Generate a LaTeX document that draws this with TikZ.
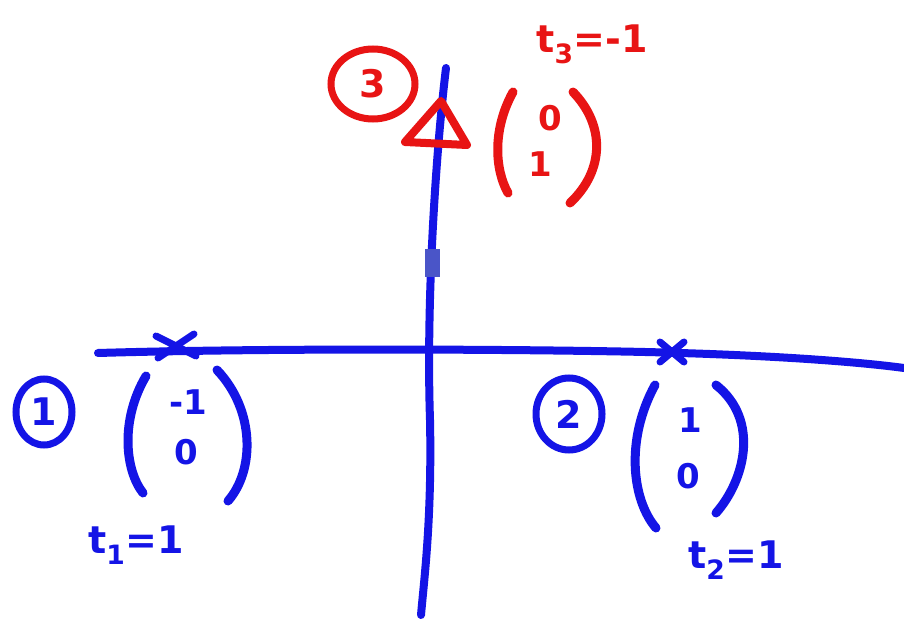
\documentclass[tikz,border=0pt]{standalone}
\usepackage{fontspec}
\setmainfont{DejaVu Sans}
\definecolor{pen}{HTML}{1414E6}
\definecolor{redpen}{HTML}{E81414}
\definecolor{marker}{HTML}{4A55C8}
\usetikzlibrary{shapes.geometric,calc}
\tikzset{
  stroke/.style={line width=8pt, line cap=round, line join=round},
  axis/.style={stroke, pen},
  paren/.style={line width=9pt, line cap=round},
  ring/.style={draw, ellipse, line width=7pt, inner sep=0pt},
  lbl/.style={font=\bfseries\fontsize{38}{40}\selectfont, inner sep=0pt},
  entry/.style={font=\bfseries\fontsize{34}{36}\selectfont, inner sep=0pt},
}
\begin{document}
\begin{tikzpicture}[x=1pt,y=-1pt]
\useasboundingbox (0,0) rectangle (904,620);
\fill[white] (0,0) rectangle (904,620);
% axes
\coordinate (vtop) at (446,68);
\coordinate (vbot) at (421,615);
\coordinate (hl) at (98,353);
\coordinate (hr) at (904,368);
\draw[axis] (vtop) .. controls (436,150) and (426,300) .. (430,420) .. controls (432,520) and (424,580) .. (vbot);
\draw[axis] (hl) .. controls (300,347) and (600,350) .. (680,353) .. controls (780,356) and (860,362) .. (hr);
\node[fill=marker, minimum width=15pt, minimum height=27pt, inner sep=0pt] (mk) at (432,263) {};
% crosses
\coordinate (x1) at (176,346);
\coordinate (x2) at (672,352);
\draw[axis, line width=7pt] ($(x1)+(-20,-10)$) -- ($(x1)+(20,10)$);
\draw[axis, line width=7pt] ($(x1)+(-18,12)$) -- ($(x1)+(18,-12)$);
\draw[axis, line width=7pt] ($(x2)+(-12,-10)$) -- ($(x2)+(12,10)$);
\draw[axis, line width=7pt] ($(x2)+(-12,10)$) -- ($(x2)+(12,-10)$);
% point 1
\node[ring, pen, minimum width=56pt, minimum height=66pt] (c1) at (44,412) {};
\node[lbl, pen] (n1) at (c1) {1};
\draw[pen, paren] (146,376) .. controls (120,420) and (125,470) .. (143,493);
\draw[pen, paren] (217,370) .. controls (255,410) and (255,470) .. (228,501);
\node[entry, pen] (e11) at (188,402) {-1};
\node[entry, pen] (e12) at (186,452) {0};
\node[lbl, pen] (t1) at (136,545) {t\textsubscript{1}=1};
% point 2
\node[ring, pen, minimum width=66pt, minimum height=72pt] (c2) at (569,414) {};
\node[lbl, pen] (n2) at (c2) {2};
\draw[pen, paren] (655,385) .. controls (625,440) and (632,500) .. (656,528);
\draw[pen, paren] (716,385) .. controls (760,420) and (745,480) .. (716,513);
\node[entry, pen] (e21) at (690,420) {1};
\node[entry, pen] (e22) at (688,476) {0};
\node[lbl, pen] (t2) at (736,560) {t\textsubscript{2}=1};
% point 3
\node[ring, redpen, minimum width=84pt, minimum height=70pt] (c3) at (373,84) {};
\node[lbl, redpen] (n3) at (c3) {3};
\draw[redpen, stroke] (405,142) -- (441,101) -- (467,145) -- cycle;
\draw[redpen, paren] (513,92) .. controls (492,130) and (495,170) .. (508,193);
\draw[redpen, paren] (573,92) .. controls (605,125) and (605,170) .. (570,203);
\node[entry, redpen] (e31) at (550,118) {0};
\node[entry, redpen] (e32) at (540,164) {1};
\node[lbl, redpen] (t3) at (592,44) {t\textsubscript{3}=-1};
\end{tikzpicture}
\end{document}
